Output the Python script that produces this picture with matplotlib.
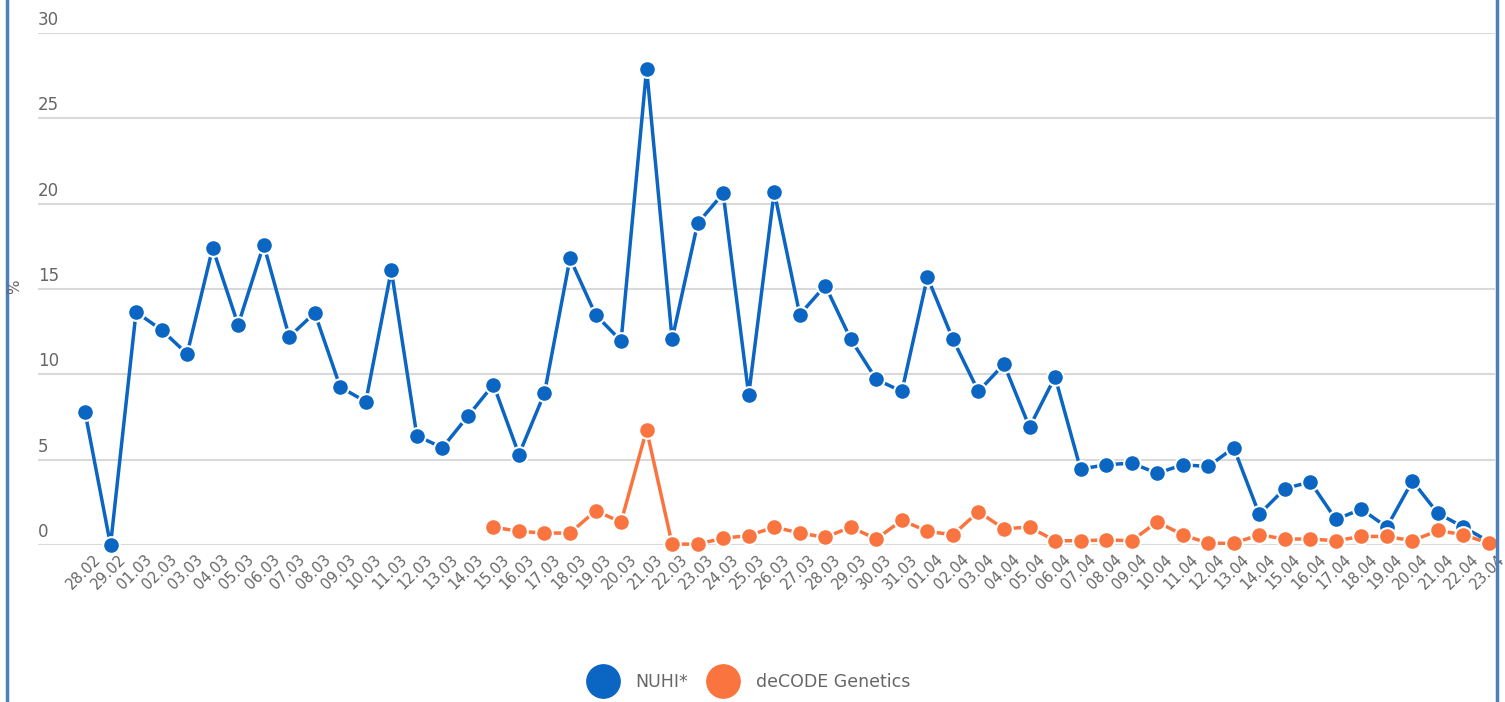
import matplotlib
matplotlib.use('Agg')
import matplotlib.pyplot as plt
import matplotlib.transforms as mtransforms
from matplotlib.lines import Line2D

plt.rcParams['font.family'] = ['DejaVu Sans']

dates = ['28.02', '29.02'] + ['%02d.03' % d for d in range(1, 32)] + ['%02d.04' % d for d in range(1, 24)]

nuhi = [7.8, 0.0, 13.65, 12.6, 11.2, 17.4, 12.9, 17.6, 12.2, 13.6,
        9.25, 8.4, 16.1, 6.4, 5.7, 7.55, 9.4, 5.3, 8.9, 16.8,
        13.5, 11.95, 27.9, 12.05, 18.85, 20.6, 8.8, 20.7, 13.5, 15.2,
        12.05, 9.7, 9.0, 15.7, 12.05, 9.0, 10.6, 6.9, 9.85, 4.45,
        4.7, 4.8, 4.2, 4.7, 4.6, 5.7, 1.8, 3.3, 3.7, 1.5,
        2.1, 1.05, 3.75, 1.85, 1.05, 0.2]

# deCODE starts on 15.03
decode_start = 16
decode = [1.05, 0.8, 0.7, 0.7, 2.0, 1.35, 6.75, 0.05, 0.05, 0.4,
          0.55, 1.05, 0.7, 0.45, 1.05, 0.35, 1.45, 0.8, 0.6, 1.95,
          0.95, 1.05, 0.25, 0.25, 0.3, 0.25, 1.35, 0.6, 0.1, 0.1,
          0.6, 0.35, 0.35, 0.25, 0.5, 0.5, 0.25, 0.85, 0.6, 0.1]

yticks = [0, 5, 10, 15, 20, 25, 30]

blue = '#0b65c2'
orange = '#f9743f'
grey_txt = '#666666'

W, H = 1505, 702
fig = plt.figure(figsize=(W / 100, H / 100), dpi=100)
ax = fig.add_axes([38 / W, 1 - 545 / H, (1495 - 38) / W, (545 - 33) / H])

x = list(range(len(dates)))
xd = list(range(decode_start, decode_start + len(decode)))

ax.plot(x, nuhi, color=blue, lw=2.5, marker='o', ms=12, mfc=blue,
        mec='white', mew=1.5, clip_on=False, zorder=3)
ax.plot(xd, decode, color=orange, lw=2.5, marker='o', ms=12, mfc=orange,
        mec='white', mew=1.5, clip_on=False, zorder=4)

sp = (1489 - 85) / 55
ax.set_xlim(-(85 - 38) / sp, 55 + (1495 - 1489) / sp)
ax.set_ylim(0, 30)

for s in ax.spines.values():
    s.set_visible(False)
ax.set_yticks(yticks)
ax.set_yticklabels([])
ax.tick_params(axis='both', length=0)
ax.yaxis.grid(True, color='#d9d9d9', lw=1.5)
ax.set_axisbelow(True)

# y labels sit above their gridlines, left aligned
trans = mtransforms.blended_transform_factory(ax.transAxes, ax.transData)
off = mtransforms.offset_copy(trans, fig=fig, x=0, y=4, units='dots')
for v in yticks:
    ax.text(0, v, str(v), transform=off, ha='left', va='bottom',
            fontsize=12, color=grey_txt)

ax.set_xticks(x)
ax.set_xticklabels(dates, rotation=45, ha='right', rotation_mode='anchor',
                   fontsize=10.5, color=grey_txt)
ax.tick_params(axis='x', pad=5)
shift = mtransforms.ScaledTranslation(8 / 100, 0, fig.dpi_scale_trans)
for lab in ax.get_xticklabels():
    lab.set_transform(lab.get_transform() + shift)

fig.text(15 / W, 1 - 287 / H, '%', rotation=90, ha='center', va='center',
         fontsize=11, color=grey_txt)

handles = [Line2D([], [], ls='none', marker='o', ms=24, color=blue),
           Line2D([], [], ls='none', marker='o', ms=24, color=orange)]
fig.legend(handles, ['NUHI*', 'deCODE Genetics'], loc='center',
           bbox_to_anchor=(0.497, 1 - 682 / H), ncol=2, frameon=False,
           fontsize=12.5, labelcolor=grey_txt, handletextpad=0.9,
           columnspacing=1.0)

# blue frame at the sides
for xp in (7, 1497):
    fig.add_artist(Line2D([xp / W, xp / W], [0, 1], color='#4a7fc0', lw=2.5,
                          transform=fig.transFigure))

fig.savefig('out.png', dpi=100, facecolor='white')
